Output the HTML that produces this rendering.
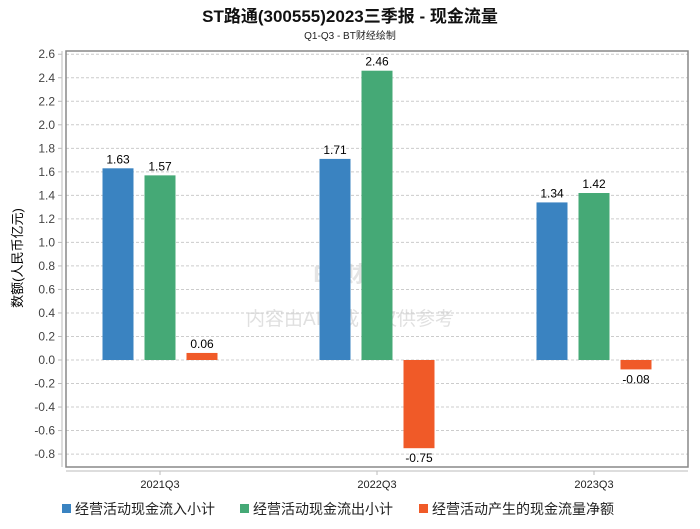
<!DOCTYPE html>
<html><head><meta charset="utf-8"><style>
body{margin:0;background:#fff;font-family:"Liberation Sans","Noto Sans CJK SC",sans-serif}
svg text{font-family:"Liberation Sans","Noto Sans CJK SC",sans-serif}
</style></head><body>
<svg id="c" width="700" height="524" xmlns="http://www.w3.org/2000/svg">
<text x="350" y="22" text-anchor="middle" font-size="17" font-weight="bold" fill="#111">ST路通(300555)2023三季报 - 现金流量</text>
<text x="350" y="39" text-anchor="middle" font-size="10" fill="#222">Q1-Q3 - BT财经绘制</text>
<text transform="translate(22,258) rotate(-90)" text-anchor="middle" font-size="13" fill="#000">数额(人民币亿元)</text>
<text x="350" y="282" text-anchor="middle" font-size="22" font-weight="bold" fill="#e4e4e4">BT财经</text>
<text x="350" y="325" text-anchor="middle" font-size="19" fill="#e0e0e0">内容由AI生成，仅供参考</text>
<g id="grid"></g><g id="bars"></g>
<rect x="66" y="51" width="622" height="416" fill="none" stroke="#888" stroke-width="1.5"/>
<line x1="62" y1="51" x2="62" y2="467" stroke="#bbb"/>
<line x1="66" y1="471" x2="688" y2="471" stroke="#bbb"/>
<g id="legend"></g>
</svg>
<script>
const categories=["2021Q3","2022Q3","2023Q3"];
const seriesNames=["经营活动现金流入小计","经营活动现金流出小计","经营活动产生的现金流量净额"];
const inflow=[1.63,1.71,1.34];
const outflow=[1.57,2.46,1.42];
const net=[0.06,-0.75,-0.08];
const yTicks=[2.6,2.4,2.2,2.0,1.8,1.6,1.4,1.2,1.0,0.8,0.6,0.4,0.2,0.0,-0.2,-0.4,-0.6,-0.8];
const colors=["#3a83c1","#45a976","#f05a28"];
const NS="http://www.w3.org/2000/svg";
const y=v=>360-v*117.6;
const x=i=>160+i*217;
function mk(tag,a,p){const e=document.createElementNS(NS,tag);for(const k in a)e.setAttribute(k,a[k]);p.appendChild(e);return e;}
const g=document.getElementById('grid');
yTicks.forEach(t=>{
 const l=mk('line',{x1:66,x2:688,y1:y(t),y2:y(t),stroke:'#ccc','stroke-dasharray':'3,2'},g);
 
 
 mk('line',{x1:58,x2:62,y1:y(t),y2:y(t),stroke:'#bbb'},g);
 const tx=mk('text',{x:55,y:y(t)+4,'text-anchor':'end','font-size':12,fill:'#444'},g);
 tx.textContent=t.toFixed(1);
 
 
});
const b=document.getElementById('bars');
[inflow,outflow,net].forEach((s,si)=>{
 s.forEach((v,i)=>{
  const cx=x(i)+(si-1)*42;
  const r=mk('rect',{x:cx-15.5,width:31,y:Math.min(y(v),y(0)),height:Math.abs(y(v)-y(0)),fill:colors[si]},b);
  
  
  const t=mk('text',{x:cx,y:v>=0?y(v)-5:y(v)+14,'text-anchor':'middle','font-size':12,fill:'#000'},b);
  t.textContent=v.toFixed(2);
  
  
 });
});
categories.forEach((c,i)=>{
 mk('line',{x1:x(i),x2:x(i),y1:471,y2:475,stroke:'#bbb'},b);
 const t=mk('text',{x:x(i),y:488,'text-anchor':'middle','font-size':11,fill:'#222'},b);
 t.textContent=c;
 
 
});
const lg=document.getElementById('legend');
const lx=[62,240,419];
seriesNames.forEach((n,i)=>{
 const r=mk('rect',{x:lx[i],y:504,width:9,height:9,fill:colors[i]},lg);
 
 
 const t=mk('text',{x:lx[i]+13,y:514,'font-size':14,fill:'#222'},lg);
 t.textContent=n;
 
 
});
</script>
</body></html>
